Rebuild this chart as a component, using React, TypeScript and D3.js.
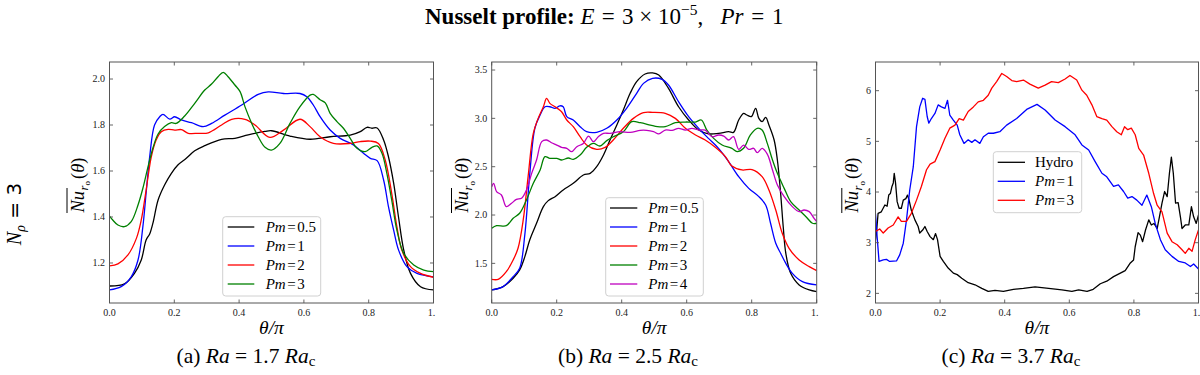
import React from 'react';
import * as d3 from 'd3';

type Pt = [number, number];

// ---------- Panel (a): Ra = 1.7 Ra_c ----------
const A_PM05: Pt[] = [[0,1.10],[0.046,1.109],[0.077,1.155],[0.098,1.213],[0.113,1.30],[0.124,1.326],[0.134,1.373],[0.150,1.474],[0.170,1.539],[0.191,1.59],[0.211,1.626],[0.237,1.655],[0.263,1.688],[0.294,1.71],[0.346,1.738],[0.387,1.742],[0.428,1.757],[0.48,1.772],[0.5,1.775],[0.557,1.752],[0.619,1.738],[0.681,1.749],[0.743,1.756],[0.774,1.771],[0.795,1.79],[0.81,1.786],[0.826,1.787],[0.846,1.735],[0.861,1.662],[0.877,1.547],[0.892,1.40],[0.908,1.257],[0.929,1.155],[0.96,1.097],[1.0,1.083]];
const A_PM1: Pt[] = [[0,1.083],[0.036,1.097],[0.067,1.14],[0.088,1.213],[0.103,1.358],[0.113,1.503],[0.124,1.662],[0.139,1.80],[0.155,1.836],[0.165,1.846],[0.186,1.826],[0.201,1.836],[0.222,1.822],[0.253,1.81],[0.289,1.793],[0.315,1.807],[0.356,1.843],[0.408,1.887],[0.459,1.933],[0.49,1.944],[0.537,1.937],[0.588,1.937],[0.609,1.923],[0.629,1.887],[0.65,1.836],[0.681,1.778],[0.712,1.742],[0.753,1.713],[0.784,1.677],[0.805,1.655],[0.826,1.645],[0.846,1.561],[0.861,1.445],[0.877,1.343],[0.892,1.257],[0.918,1.184],[0.949,1.155],[1.0,1.14]];
const A_PM2: Pt[] = [[0,1.187],[0.026,1.196],[0.057,1.235],[0.083,1.307],[0.098,1.387],[0.113,1.517],[0.129,1.662],[0.144,1.735],[0.16,1.771],[0.181,1.781],[0.201,1.778],[0.222,1.78],[0.243,1.764],[0.274,1.764],[0.305,1.766],[0.346,1.80],[0.377,1.825],[0.418,1.825],[0.449,1.80],[0.495,1.746],[0.537,1.778],[0.588,1.825],[0.619,1.793],[0.65,1.749],[0.691,1.72],[0.743,1.72],[0.774,1.728],[0.805,1.73],[0.83,1.72],[0.851,1.648],[0.871,1.503],[0.887,1.358],[0.902,1.257],[0.929,1.184],[0.96,1.155],[1.0,1.138]];
const A_PM3: Pt[] = [[0,1.404],[0.01,1.387],[0.026,1.365],[0.046,1.358],[0.067,1.38],[0.088,1.452],[0.103,1.525],[0.119,1.619],[0.134,1.70],[0.15,1.761],[0.17,1.793],[0.191,1.81],[0.206,1.807],[0.232,1.839],[0.263,1.894],[0.294,1.952],[0.315,1.978],[0.335,2.01],[0.351,2.029],[0.366,2.01],[0.387,1.974],[0.403,1.945],[0.418,1.88],[0.439,1.807],[0.459,1.749],[0.48,1.703],[0.5,1.691],[0.526,1.72],[0.557,1.807],[0.588,1.88],[0.619,1.93],[0.629,1.933],[0.65,1.91],[0.666,1.896],[0.681,1.851],[0.702,1.815],[0.722,1.786],[0.743,1.742],[0.764,1.699],[0.789,1.684],[0.81,1.703],[0.826,1.709],[0.841,1.677],[0.856,1.59],[0.871,1.474],[0.887,1.343],[0.908,1.242],[0.939,1.191],[0.97,1.169],[1.0,1.162]];

// ---------- Panel (b): Ra = 2.5 Ra_c ----------
const B_PM05: Pt[] = [[0,1.225],[0.035,1.26],[0.066,1.346],[0.086,1.432],[0.102,1.57],[0.117,1.742],[0.138,1.915],[0.159,2.087],[0.174,2.149],[0.195,2.19],[0.22,2.259],[0.251,2.328],[0.282,2.414],[0.303,2.431],[0.323,2.5],[0.344,2.621],[0.364,2.776],[0.385,2.931],[0.405,3.086],[0.426,3.259],[0.446,3.38],[0.472,3.459],[0.495,3.47],[0.514,3.448],[0.544,3.31],[0.575,3.12],[0.606,2.983],[0.637,2.879],[0.667,2.84],[0.698,2.845],[0.729,2.862],[0.744,2.855],[0.76,2.983],[0.775,3.052],[0.785,3.035],[0.799,3.018],[0.812,3.104],[0.822,3.0],[0.832,2.966],[0.843,3.01],[0.853,2.931],[0.869,2.776],[0.879,2.569],[0.889,2.224],[0.897,1.879],[0.905,1.604],[0.92,1.397],[0.946,1.277],[0.977,1.225],[1.0,1.208]];
const B_PM1: Pt[] = [[0,1.225],[0.035,1.26],[0.066,1.363],[0.086,1.45],[0.102,1.80],[0.117,2.42],[0.133,2.90],[0.149,3.035],[0.164,3.12],[0.179,3.12],[0.195,3.104],[0.21,3.13],[0.22,3.12],[0.231,3.018],[0.251,2.983],[0.272,2.914],[0.292,2.862],[0.323,2.855],[0.354,2.897],[0.385,2.983],[0.415,3.104],[0.446,3.259],[0.467,3.362],[0.495,3.414],[0.524,3.404],[0.544,3.345],[0.575,3.172],[0.606,3.018],[0.637,2.897],[0.667,2.793],[0.698,2.69],[0.729,2.552],[0.76,2.397],[0.791,2.276],[0.822,2.19],[0.843,2.104],[0.858,1.915],[0.874,1.708],[0.889,1.604],[0.905,1.5],[0.925,1.397],[0.956,1.311],[1.0,1.277]];
const B_PM2: Pt[] = [[0,1.335],[0.02,1.335],[0.045,1.414],[0.066,1.535],[0.081,1.656],[0.097,1.949],[0.112,2.397],[0.128,2.845],[0.143,3.0],[0.159,3.12],[0.169,3.207],[0.179,3.155],[0.195,3.12],[0.215,3.069],[0.231,2.983],[0.251,2.914],[0.272,2.81],[0.292,2.724],[0.323,2.68],[0.349,2.70],[0.374,2.776],[0.405,2.897],[0.436,3.0],[0.467,3.059],[0.495,3.062],[0.534,3.052],[0.565,3.0],[0.596,2.897],[0.627,2.828],[0.657,2.776],[0.688,2.70],[0.719,2.604],[0.739,2.507],[0.77,2.466],[0.801,2.47],[0.832,2.397],[0.853,2.259],[0.874,2.052],[0.894,1.811],[0.915,1.656],[0.946,1.535],[0.977,1.466],[1.0,1.425]];
const B_PM3: Pt[] = [[0,1.863],[0.015,1.89],[0.045,1.89],[0.066,1.966],[0.086,2.018],[0.107,2.156],[0.128,2.328],[0.149,2.466],[0.164,2.604],[0.179,2.586],[0.2,2.586],[0.215,2.569],[0.236,2.59],[0.251,2.575],[0.272,2.62],[0.292,2.70],[0.313,2.741],[0.333,2.714],[0.354,2.77],[0.374,2.81],[0.405,2.862],[0.431,2.966],[0.457,2.955],[0.488,2.931],[0.51,2.914],[0.534,2.914],[0.565,2.955],[0.596,2.962],[0.627,2.962],[0.645,2.983],[0.662,2.879],[0.683,2.793],[0.709,2.724],[0.739,2.69],[0.755,2.655],[0.775,2.69],[0.796,2.828],[0.817,2.897],[0.832,2.879],[0.848,2.741],[0.864,2.569],[0.879,2.431],[0.9,2.276],[0.92,2.138],[0.946,2.052],[0.967,1.983],[0.987,1.915],[1.0,1.915]];
const B_PM4: Pt[] = [[0,2.293],[0.006,2.328],[0.015,2.242],[0.03,2.207],[0.045,2.087],[0.061,2.121],[0.076,2.162],[0.092,2.173],[0.107,2.259],[0.123,2.431],[0.138,2.569],[0.154,2.759],[0.169,2.776],[0.184,2.748],[0.2,2.724],[0.215,2.70],[0.231,2.69],[0.246,2.655],[0.262,2.707],[0.282,2.741],[0.298,2.817],[0.313,2.759],[0.328,2.81],[0.344,2.845],[0.364,2.845],[0.395,2.862],[0.426,2.855],[0.457,2.876],[0.477,2.876],[0.498,2.862],[0.514,2.84],[0.534,2.879],[0.555,2.876],[0.575,2.897],[0.596,2.879],[0.616,2.897],[0.637,2.879],[0.657,2.879],[0.678,2.81],[0.698,2.828],[0.714,2.817],[0.729,2.776],[0.744,2.81],[0.76,2.68],[0.775,2.724],[0.791,2.68],[0.806,2.69],[0.817,2.645],[0.832,2.69],[0.848,2.63],[0.864,2.466],[0.879,2.311],[0.9,2.19],[0.925,2.087],[0.946,2.035],[0.961,2.052],[0.977,2.035],[0.992,1.966],[1.0,1.932]];

// ---------- Panel (c): Ra = 3.7 Ra_c ----------
const C_HYDRO: Pt[] = [[0,3.05],[0.003,3.19],[0.008,3.58],[0.018,3.61],[0.029,3.745],[0.036,3.72],[0.041,3.94],[0.046,3.97],[0.051,4.11],[0.055,4.18],[0.058,4.37],[0.062,4.18],[0.067,3.81],[0.073,3.68],[0.08,3.68],[0.086,3.84],[0.094,3.87],[0.099,3.94],[0.104,3.84],[0.111,3.64],[0.122,3.45],[0.132,3.32],[0.137,3.19],[0.146,3.25],[0.153,3.32],[0.16,3.22],[0.169,3.12],[0.179,3.06],[0.186,3.18],[0.192,3.06],[0.2,2.73],[0.21,2.63],[0.225,2.50],[0.241,2.40],[0.253,2.37],[0.267,2.30],[0.287,2.21],[0.308,2.17],[0.329,2.10],[0.349,2.04],[0.37,2.06],[0.396,2.04],[0.427,2.08],[0.458,2.10],[0.494,2.13],[0.536,2.10],[0.577,2.07],[0.608,2.04],[0.629,2.07],[0.655,2.04],[0.674,2.08],[0.696,2.19],[0.716,2.24],[0.737,2.33],[0.758,2.40],[0.773,2.45],[0.789,2.60],[0.799,2.66],[0.804,2.92],[0.813,3.20],[0.82,3.15],[0.827,3.02],[0.836,3.25],[0.846,3.45],[0.854,3.35],[0.862,3.38],[0.872,3.28],[0.879,3.51],[0.887,3.78],[0.895,4.01],[0.903,3.91],[0.91,4.37],[0.916,4.69],[0.922,4.37],[0.929,3.78],[0.937,3.79],[0.944,3.51],[0.949,3.28],[0.959,3.35],[0.97,3.35],[0.978,3.71],[0.985,3.51],[0.993,3.38],[1.0,3.55]];
const C_PM1: Pt[] = [[0,3.57],[0.005,3.12],[0.011,2.63],[0.024,2.66],[0.034,2.67],[0.044,2.63],[0.065,2.64],[0.075,2.76],[0.086,2.99],[0.096,3.45],[0.106,4.04],[0.117,4.50],[0.127,5.29],[0.137,5.68],[0.146,5.85],[0.153,5.83],[0.16,5.49],[0.165,5.36],[0.173,5.45],[0.184,5.55],[0.194,5.72],[0.204,5.68],[0.215,5.65],[0.223,5.81],[0.23,5.52],[0.241,5.42],[0.253,5.32],[0.261,5.13],[0.274,4.96],[0.287,5.03],[0.298,4.98],[0.308,5.03],[0.323,4.96],[0.334,5.09],[0.349,5.16],[0.365,5.16],[0.385,5.19],[0.406,5.32],[0.437,5.45],[0.468,5.63],[0.5,5.73],[0.525,5.62],[0.556,5.42],[0.587,5.29],[0.618,5.13],[0.639,4.93],[0.66,4.83],[0.68,4.60],[0.701,4.37],[0.716,4.30],[0.737,4.11],[0.752,4.14],[0.768,4.01],[0.781,3.88],[0.794,3.91],[0.809,3.84],[0.825,3.74],[0.84,3.94],[0.854,3.71],[0.866,3.38],[0.882,3.06],[0.897,2.86],[0.918,2.73],[0.939,2.63],[0.959,2.60],[0.975,2.53],[0.985,2.58],[1.0,2.48]];
const C_PM3: Pt[] = [[0,3.22],[0.013,3.27],[0.024,3.19],[0.039,3.29],[0.055,3.35],[0.07,3.51],[0.08,3.42],[0.096,3.42],[0.111,3.58],[0.127,3.84],[0.142,4.11],[0.158,4.44],[0.169,4.55],[0.184,4.60],[0.2,4.83],[0.215,5.06],[0.23,5.26],[0.246,5.32],[0.259,5.45],[0.272,5.42],[0.287,5.59],[0.303,5.68],[0.318,5.78],[0.334,5.81],[0.349,5.91],[0.36,6.05],[0.375,6.18],[0.391,6.34],[0.406,6.28],[0.422,6.20],[0.437,6.18],[0.458,6.21],[0.478,6.13],[0.504,6.05],[0.525,6.11],[0.545,6.18],[0.566,6.16],[0.587,6.23],[0.602,6.30],[0.623,6.21],[0.639,6.01],[0.654,5.91],[0.67,5.72],[0.685,5.49],[0.701,5.45],[0.716,5.42],[0.732,5.29],[0.747,5.19],[0.761,5.13],[0.771,5.29],[0.781,5.23],[0.792,5.26],[0.804,5.13],[0.815,4.86],[0.83,4.73],[0.846,4.37],[0.861,3.97],[0.872,3.74],[0.887,3.61],[0.903,3.19],[0.918,3.02],[0.934,2.96],[0.949,2.86],[0.959,2.79],[0.97,2.89],[0.98,2.83],[0.99,3.06],[1.0,3.25]];

// ---------- Axes / labels ----------
const X_TICKS = [0, 0.2, 0.4, 0.6, 0.8, 1.0];
const X_TICK_LABELS = ['0.0', '0.2', '0.4', '0.6', '0.8', '1.'];
const A_Y_TICKS = [1.2, 1.4, 1.6, 1.8, 2.0];
const A_Y_TICK_LABELS = ['1.2', '1.4', '1.6', '1.8', '2.0'];
const B_Y_TICKS = [1.5, 2.0, 2.5, 3.0, 3.5];
const B_Y_TICK_LABELS = ['1.5', '2.0', '2.5', '3.0', '3.5'];
const C_Y_TICKS = [2, 3, 4, 5, 6];
const C_Y_TICK_LABELS = ['2', '3', '4', '5', '6'];
const A_Y_DOMAIN: [number, number] = [1.026, 2.074];
const B_Y_DOMAIN: [number, number] = [1.09, 3.583];
const C_Y_DOMAIN: [number, number] = [1.81, 6.566];

const A_LEGEND = ['0.5', '1', '2', '3'];
const B_LEGEND = ['0.5', '1', '2', '3', '4'];
const C_LEGEND = ['Hydro', '1', '3'];
const CAPTIONS = [
  { letter: 'a', ra: '1.7' },
  { letter: 'b', ra: '2.5' },
  { letter: 'c', ra: '3.7' },
];

const COLORS = { k: '#000000', b: '#0000ff', r: '#ff0000', g: '#008000', m: '#bf00bf' };
const SERIF = '"Liberation Serif", "Times New Roman", serif';
const NB = '\u00A0';

interface Series { data: Pt[]; color: string; label: string; }
interface PanelProps {
  id: string;
  box: { left: number; right: number; top: number; bottom: number };
  yDomain: [number, number];
  yTicks: number[];
  yTickLabels: string[];
  series: Series[];
  legend: { x0: number; x1: number; y0: number; y1: number; first: number; step: number; lineX0: number; lineX1: number; textX: number };
  smooth: boolean;
  ylabelX: number;
  captionX: number;
  caption: { letter: string; ra: string };
}

function LegendLabel({ label, x, y }: { label: string; x: number; y: number }) {
  if (label === 'Hydro') {
    return <text x={x} y={y + 5} fontFamily={SERIF} fontSize={15}>Hydro</text>;
  }
  return (
    <text x={x} y={y + 5} fontFamily={SERIF} fontSize={15}>
      <tspan fontStyle="italic">Pm</tspan>
      <tspan dx={1.5}>=</tspan>
      <tspan dx={1.5}>{label}</tspan>
    </text>
  );
}

function Panel(p: PanelProps) {
  const { box } = p;
  const x = d3.scaleLinear().domain([0, 1]).range([box.left, box.right]);
  const y = d3.scaleLinear().domain(p.yDomain).range([box.bottom, box.top]);
  const line = d3
    .line<Pt>()
    .x((d) => x(d[0]))
    .y((d) => y(d[1]))
    .curve(p.smooth ? d3.curveCatmullRom.alpha(0.5) : d3.curveLinear);
  const tl = 3.5;
  const cx = (box.left + box.right) / 2;
  return (
    <g>
      <defs>
        <clipPath id={`clip-${p.id}`}>
          <rect x={box.left} y={box.top} width={box.right - box.left} height={box.bottom - box.top} />
        </clipPath>
      </defs>
      <g clipPath={`url(#clip-${p.id})`}>
        {p.series.map((s, i) => (
          <path key={i} d={line(s.data) || ''} fill="none" stroke={s.color} strokeWidth={1.3} strokeLinejoin="round" />
        ))}
      </g>
      {X_TICKS.map((t, i) => (
        <g key={`xt${i}`}>
          <line x1={x(t)} x2={x(t)} y1={box.bottom} y2={box.bottom - tl} stroke="#555" strokeWidth={0.9} />
          <line x1={x(t)} x2={x(t)} y1={box.top} y2={box.top + tl} stroke="#555" strokeWidth={0.9} />
          <text
            x={i === X_TICKS.length - 1 ? x(t) - 5.8 : x(t)}
            y={box.bottom + 13}
            textAnchor={i === X_TICKS.length - 1 ? 'start' : 'middle'}
            fontFamily={SERIF}
            fontSize={10}
            fill="#222"
          >
            {X_TICK_LABELS[i]}
          </text>
        </g>
      ))}
      {p.yTicks.map((t, i) => (
        <g key={`yt${i}`}>
          <line x1={box.left} x2={box.left + tl} y1={y(t)} y2={y(t)} stroke="#555" strokeWidth={0.9} />
          <line x1={box.right} x2={box.right - tl} y1={y(t)} y2={y(t)} stroke="#555" strokeWidth={0.9} />
          <text x={box.left - 4.5} y={y(t) + 3.4} textAnchor="end" fontFamily={SERIF} fontSize={10} fill="#222">
            {p.yTickLabels[i]}
          </text>
        </g>
      ))}
      <rect x={box.left} y={box.top} width={box.right - box.left} height={box.bottom - box.top} fill="none" stroke="#555" strokeWidth={1} />
      <rect
        x={p.legend.x0}
        y={p.legend.y0}
        width={p.legend.x1 - p.legend.x0}
        height={p.legend.y1 - p.legend.y0}
        rx={3}
        fill="#fff"
        fillOpacity={0.85}
        stroke="#d0d0d0"
        strokeWidth={1}
      />
      {p.series.map((s, i) => {
        const ly = p.legend.first + i * p.legend.step;
        return (
          <g key={`lg${i}`}>
            <line x1={p.legend.lineX0} x2={p.legend.lineX1} y1={ly} y2={ly} stroke={s.color} strokeWidth={1.3} />
            <LegendLabel label={s.label} x={p.legend.textX} y={ly} />
          </g>
        );
      })}
      <text x={cx} y={box.bottom + 31} textAnchor="middle" fontFamily={SERIF} fontSize={19.5} fontStyle="italic">
        θ/π
      </text>
      <g transform={`translate(${p.ylabelX},${box.top + 150.5}) rotate(-90)`}>
        <line x1={-0.5} x2={24.5} y1={-16.5} y2={-16.5} stroke="#000" strokeWidth={1} />
        <text x={0} y={0} fontFamily={SERIF} fontSize={18.5}>
          <tspan fontStyle="italic">Nu</tspan>
          <tspan fontStyle="italic" fontSize={12.5} dx={0.5} dy={4}>r</tspan>
          <tspan fontSize={9} dy={2.5}>o</tspan>
          <tspan dx={2} dy={-6.5}>(</tspan>
          <tspan fontStyle="italic">θ</tspan>
          <tspan>)</tspan>
        </text>
      </g>
      <text x={p.captionX} y={363} textAnchor="middle" fontFamily={SERIF} fontSize={21.5}>
        <tspan>({p.caption.letter}) </tspan>
        <tspan fontStyle="italic">Ra</tspan>
        <tspan> = {p.caption.ra} </tspan>
        <tspan fontStyle="italic">Ra</tspan>
        <tspan fontSize={15} dy={3}>c</tspan>
      </text>
    </g>
  );
}

export default function App() {
  const panels: PanelProps[] = [
    {
      id: 'a',
      box: { left: 109.5, right: 433.5, top: 62, bottom: 303 },
      yDomain: A_Y_DOMAIN,
      yTicks: A_Y_TICKS,
      yTickLabels: A_Y_TICK_LABELS,
      series: [
        { data: A_PM05, color: COLORS.k, label: A_LEGEND[0] },
        { data: A_PM1, color: COLORS.b, label: A_LEGEND[1] },
        { data: A_PM2, color: COLORS.r, label: A_LEGEND[2] },
        { data: A_PM3, color: COLORS.g, label: A_LEGEND[3] },
      ],
      legend: { x0: 222.7, x1: 320.7, y0: 216.7, y1: 296, first: 227, step: 19, lineX0: 227.7, lineX1: 254.3, textX: 265.7 },
      smooth: true,
      ylabelX: 83.5,
      captionX: 246,
      caption: CAPTIONS[0],
    },
    {
      id: 'b',
      box: { left: 491.7, right: 816.7, top: 62, bottom: 303 },
      yDomain: B_Y_DOMAIN,
      yTicks: B_Y_TICKS,
      yTickLabels: B_Y_TICK_LABELS,
      series: [
        { data: B_PM05, color: COLORS.k, label: B_LEGEND[0] },
        { data: B_PM1, color: COLORS.b, label: B_LEGEND[1] },
        { data: B_PM2, color: COLORS.r, label: B_LEGEND[2] },
        { data: B_PM3, color: COLORS.g, label: B_LEGEND[3] },
        { data: B_PM4, color: COLORS.m, label: B_LEGEND[4] },
      ],
      legend: { x0: 605.7, x1: 703.3, y0: 197.7, y1: 296, first: 208, step: 19, lineX0: 610, lineX1: 637.3, textX: 648.3 },
      smooth: true,
      ylabelX: 468,
      captionX: 628,
      caption: CAPTIONS[1],
    },
    {
      id: 'c',
      box: { left: 875.5, right: 1198.5, top: 62, bottom: 303 },
      yDomain: C_Y_DOMAIN,
      yTicks: C_Y_TICKS,
      yTickLabels: C_Y_TICK_LABELS,
      series: [
        { data: C_HYDRO, color: COLORS.k, label: C_LEGEND[0] },
        { data: C_PM1, color: COLORS.b, label: C_LEGEND[1] },
        { data: C_PM3, color: COLORS.r, label: C_LEGEND[2] },
      ],
      legend: { x0: 993.3, x1: 1081.7, y0: 151.7, y1: 212.7, first: 162.3, step: 19, lineX0: 997.7, lineX1: 1025, textX: 1035 },
      smooth: false,
      ylabelX: 858.3,
      captionX: 1011,
      caption: CAPTIONS[2],
    },
  ];

  return (
    <svg
      width={1200}
      height={375}
      viewBox="0 0 1200 375"
      style={{ position: 'absolute', left: 0, top: 0, background: '#fff' }}
    >
      <rect x={0} y={0} width={1200} height={375} fill="#fff" />
      <text x={425} y={23.5} textAnchor="start" fontFamily={SERIF} fontSize={23}>
        <tspan fontWeight="bold">Nusselt profile: </tspan>
        <tspan fontStyle="italic">E</tspan>
        <tspan dx={1.5}>{`${NB}=${NB}`}</tspan>
        <tspan dx={1.5}>{`3${NB}×${NB}10`}</tspan>
        <tspan fontSize={15.5} dy={-8.5}>−5</tspan>
        <tspan dy={8.5}>{`,${NB}${NB}${NB}`}</tspan>
        <tspan fontStyle="italic">Pr</tspan>
        <tspan dx={2}>{`${NB}=${NB}`}</tspan>
        <tspan dx={2}>1</tspan>
      </text>
      <g transform="translate(20.5,214) rotate(-90)">
        <text x={0} y={0} textAnchor="middle" fontSize={20}>
          <tspan fontFamily={SERIF} fontStyle="italic">N</tspan>
          <tspan fontFamily={SERIF} fontStyle="italic" fontSize={14} dy={4}>ρ</tspan>
          <tspan fontFamily='"DejaVu Sans", sans-serif' dy={-4}>{`${NB}=${NB}3`}</tspan>
        </text>
      </g>
      {panels.map((p) => (
        <Panel key={p.id} {...p} />
      ))}
    </svg>
  );
}
